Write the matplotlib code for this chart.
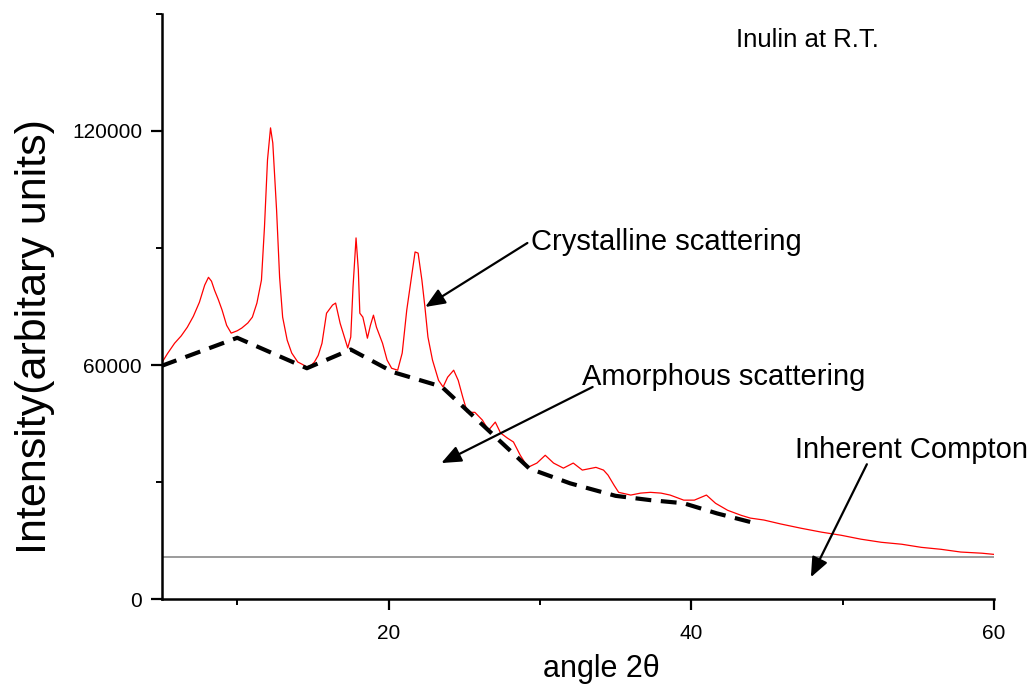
"""
Difractograma de inulina a temperatura ambiente.
"""
import matplotlib.pyplot as plt

plt.rcParams["font.family"] = ["Liberation Sans", "DejaVu Sans"]

two_theta = [5.0, 5.4, 5.86, 6.3, 6.7, 7.1, 7.5, 7.85, 8.1, 8.3, 8.5, 8.75,
             9.0, 9.3, 9.6, 10.0, 10.3, 10.7, 11.0, 11.3, 11.6, 11.8, 12.0,
             12.2, 12.35, 12.6, 12.8, 13.0, 13.3, 13.6, 14.0, 14.3, 14.6,
             14.9, 15.1, 15.35, 15.6, 15.9, 16.3, 16.5, 16.8, 17.0, 17.3,
             17.5, 17.65, 17.85, 18.0, 18.1, 18.3, 18.45, 18.6, 18.8, 19.0,
             19.2, 19.6, 19.9, 20.2, 20.6, 20.9, 21.2, 21.55, 21.75, 21.95,
             22.2, 22.4, 22.6, 22.9, 23.3, 23.6, 23.9, 24.3, 24.6, 24.9,
             25.2, 25.7, 26.2, 26.6, 27.05, 27.4, 27.85, 28.25, 28.7, 29.2,
             29.8, 30.35, 30.9, 31.55, 32.2, 32.8, 33.7, 34.2, 34.5, 34.9,
             35.2, 36.0, 36.65, 37.3, 38.0, 38.6, 39.5, 40.2, 41.0, 41.6,
             42.4, 43.3, 43.9, 44.8, 45.9, 47.25, 48.6, 49.9, 51.2, 52.55,
             53.9, 55.2, 56.5, 57.8, 59.2, 60.0]
intensity = [60500, 63000, 65600, 67500, 69700, 72500, 76100, 80500, 82500,
             81500, 79200, 76800, 74100, 70200, 68200, 68800, 69500, 70800,
             72300, 75900, 81800, 95400, 112600, 120800, 116900, 99700,
             82500, 72300, 66400, 63100, 60800, 60200, 59500, 60000, 60800,
             62500, 65600, 73300, 75400, 75900, 70700, 68200, 64400, 67200,
             80000, 92600, 84400, 73300, 72300, 69700, 66900, 70200, 72800,
             69700, 65600, 61300, 59200, 58700, 63100, 74100, 83600, 89000,
             88700, 81800, 74900, 67200, 61300, 56100, 54400, 56900, 58700,
             56100, 51800, 47900, 47900, 45900, 43300, 45400, 42600, 41300,
             40300, 36900, 33800, 34900, 36900, 34900, 33600, 34900, 33100,
             33800, 33100, 31800, 29200, 27400, 26700, 27200, 27400, 27200,
             26700, 25400, 25400, 26700, 24600, 22800, 21500, 20800, 20300,
             19300, 18200, 17200, 16400, 15400, 14600, 14100, 13300, 12800,
             12100, 11800, 11500]

# fondo amorfo (linea discontinua)
amorph_x = [5.0, 10.0, 14.6, 17.5, 20.3, 23.5, 29.3, 32.0, 35.0, 37.3,
            39.5, 41.7, 44.1]
amorph_y = [59800, 67000, 59200, 64000, 58200, 54500, 33500, 29700, 26500,
            25400, 24600, 22000, 19600]

# Compton inherente (linea gris)
compton_x = [5.0, 60.0]
compton_y = [10750, 10750]


def main():
    fig = plt.figure(figsize=(10.29, 6.96), dpi=100)
    ax = fig.add_axes([0.157, 0.139, 0.809, 0.841])

    ax.plot(compton_x, compton_y, color="gray", linewidth=1.1)
    ax.plot(two_theta, intensity, color="red", linewidth=0.9)
    ax.plot(amorph_x, amorph_y, color="black", linewidth=3.0,
            linestyle=(0, (3.8, 2.3)))

    ax.set_xlim(5, 60)
    ax.set_ylim(0, 150000)
    ax.set_xticks([20, 40, 60])
    ax.set_xticks([10, 30, 50], minor=True)
    ax.set_yticks([0, 60000, 120000])
    ax.set_yticks([30000, 90000, 150000], minor=True)
    ax.tick_params(which="major", direction="out", length=8, width=1.6,
                   labelsize=15)
    ax.tick_params(which="minor", direction="out", length=4, width=1.4)
    ax.tick_params(axis="x", which="major", pad=10)
    ax.tick_params(axis="y", which="major", pad=6)

    ax.spines["top"].set_visible(False)
    ax.spines["right"].set_visible(False)
    ax.spines["left"].set_linewidth(1.8)
    ax.spines["bottom"].set_linewidth(1.8)

    ax.set_xlabel("angle 2θ", fontsize=22)
    ax.set_ylabel("Intensity(arbitary units)", fontsize=31)
    ax.xaxis.set_label_coords(0.528, -0.093)
    ax.yaxis.set_label_coords(-0.128, 0.448)

    # textos y flechas
    arrow = dict(arrowstyle="-|>,head_length=1.2,head_width=0.5",
                 color="black", linewidth=1.6, shrinkA=0, shrinkB=0)
    ax.text(29.4, 89500, "Crystalline scattering", fontsize=21)
    ax.annotate("", xy=(22.42, 74900), xytext=(29.17, 91300), arrowprops=arrow)
    ax.text(32.75, 54900, "Amorphous scattering", fontsize=21)
    ax.annotate("", xy=(23.48, 34900), xytext=(33.48, 54400), arrowprops=arrow)
    ax.text(46.85, 36150, "Inherent Compton", fontsize=21)
    ax.annotate("", xy=(47.9, 5640), xytext=(51.6, 34600), arrowprops=arrow)
    ax.text(42.95, 141500, "Inulin at R.T.", fontsize=18.5)

    fig.savefig("out.png")


if __name__ == "__main__":
    main()
